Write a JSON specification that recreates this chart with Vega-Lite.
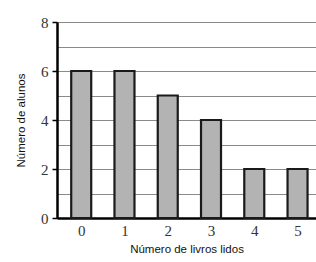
{
  "$schema": "https://vega.github.io/schema/vega-lite/v6.json",
  "width": 259,
  "height": 196,
  "autosize": {"type": "none"},
  "padding": {"left": 57, "top": 22, "right": 0, "bottom": 44},
  "background": "white",
  "config": {"view": {"stroke": null}},
  "data": {"values": [
    {"livros": 0, "alunos": 6},
    {"livros": 1, "alunos": 6},
    {"livros": 2, "alunos": 5},
    {"livros": 3, "alunos": 4},
    {"livros": 4, "alunos": 2},
    {"livros": 5, "alunos": 2}
  ]},
  "mark": {"type": "bar", "width": 20, "fill": "#b3b3b3", "stroke": "#1a1a1a", "strokeWidth": 2.2},
  "encoding": {
    "x": {
      "field": "livros", "type": "quantitative",
      "scale": {"domain": [-0.444, 5.311], "nice": false, "zero": false},
      "axis": {
        "values": [0, 1, 2, 3, 4, 5], "grid": false, "ticks": false,
        "domainColor": "#000", "domainWidth": 2.5,
        "labelFont": "Liberation Serif", "labelFontSize": 15, "labelColor": "#333", "labelPadding": 5,
        "title": "Número de livros lidos", "titleFont": "Liberation Sans", "titleFontSize": 11.5,
        "titleFontWeight": "normal", "titleColor": "#111", "titlePadding": 5
      }
    },
    "y": {
      "field": "alunos", "type": "quantitative",
      "scale": {"domain": [0, 8], "nice": false},
      "axis": {
        "values": [0, 1, 2, 3, 4, 5, 6, 7, 8],
        "labelExpr": "datum.value % 2 == 0 ? datum.label : ''",
        "tickOpacity": {"condition": {"test": "datum.value % 2 == 0", "value": 1}, "value": 0},
        "tickSize": 5, "tickColor": "#000", "tickWidth": 1.5,
        "grid": true, "gridColor": "#8a8a8a", "gridWidth": 1.2,
        "domainColor": "#000", "domainWidth": 2.5,
        "labelFont": "Liberation Serif", "labelFontSize": 15, "labelColor": "#333", "labelPadding": 4,
        "title": "Número de alunos", "titleFont": "Liberation Sans", "titleFontSize": 11.5,
        "titleFontWeight": "normal", "titleColor": "#111", "titlePadding": 14
      }
    }
  }
}
